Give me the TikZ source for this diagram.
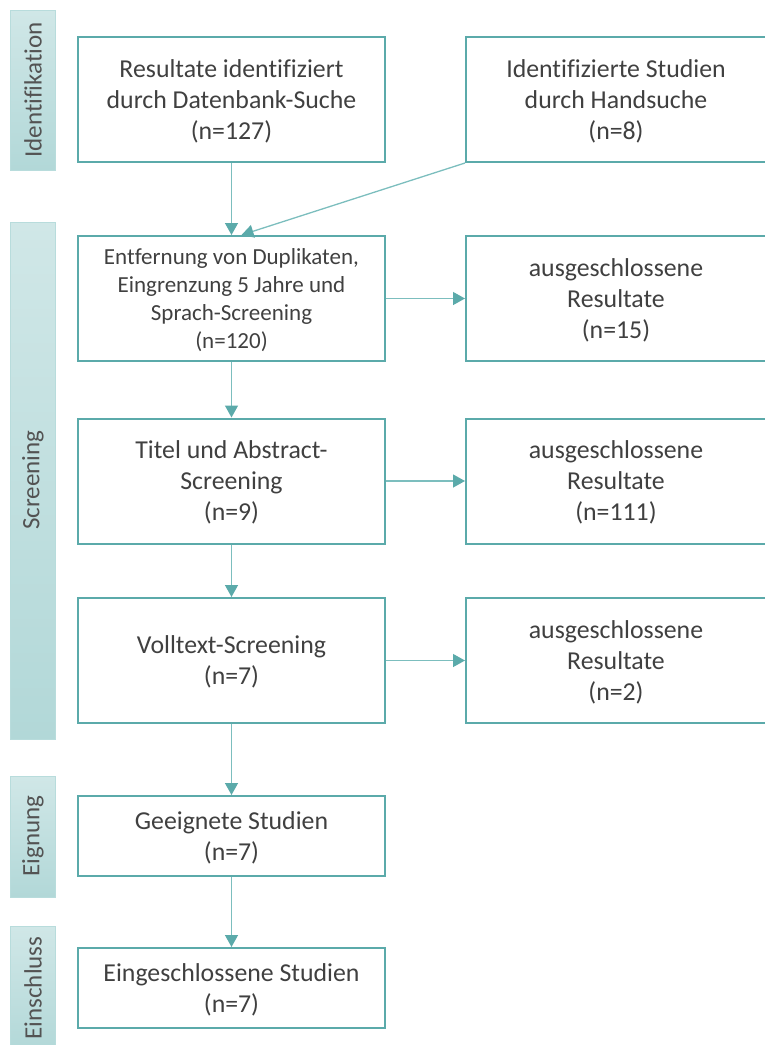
\documentclass[tikz,border=0pt]{standalone}
\usepackage{fontspec}
\setmainfont{Carlito}[Ligatures=NoCommon]
\usetikzlibrary{arrows.meta}
\definecolor{frameteal}{HTML}{5BAAAA}
\definecolor{lineteal}{HTML}{7CBEBE}
\definecolor{textgray}{HTML}{404040}
\definecolor{phasetop}{HTML}{D0E7E7}
\definecolor{phasebot}{HTML}{B2D8D8}
\definecolor{phaseedge}{HTML}{B8DCDC}
\begin{document}
\begin{tikzpicture}[x=1pt,y=-1pt,
  box/.style={draw=frameteal,line width=2pt,fill=white,align=center,text=textgray,
    font=\fontsize{25.8}{31}\selectfont,inner sep=0pt,minimum height=125pt,
    text depth=-4pt},
  lbox/.style={box,minimum width=307pt},
  rbox/.style={box,minimum width=300pt},
  flow/.style={draw=lineteal,line width=1.3pt,
    -{Triangle[length=12pt,width=13pt,color=frameteal]}},
  phasebar/.style={top color=phasetop,bottom color=phasebot,draw=phaseedge,line width=1pt},
  phaselabel/.style={rotate=90,text=textgray!90,font=\fontsize{25}{31}\selectfont,inner sep=0pt}
]
\useasboundingbox (0,0) rectangle (764,1045);

% phase bars on the left
\path[phasebar] (10,10) rectangle (55,170);
\path[phasebar] (10,222) rectangle (55,739);
\path[phasebar] (10,776) rectangle (55,897);
\path[phasebar] (10,926) rectangle (55,1052);
\node[phaselabel] (pid)  at (33,90)  {Identifikation};
\node[phaselabel] (pscr) at (33,480) {Screening};
\node[phaselabel] (pelg) at (33,836) {Eignung};
\node[phaselabel] (pinc) at (33,988) {Einschluss};

% main column
\node[lbox] (db)    at (231.5,99.5) {Resultate identifiziert\\durch Datenbank-Suche\\(n=127)};
\node[lbox,font=\fontsize{23}{28.3}\selectfont,text depth=0pt] (dup) at (231.5,298.5)
  {Entfernung von Duplikaten,\\Eingrenzung 5 Jahre und\\Sprach-Screening\\(n=120)};
\node[lbox] (title) at (231.5,481) {Titel und Abstract-\\Screening\\(n=9)};
\node[lbox] (full)  at (231.5,660.5) {Volltext-Screening\\(n=7)};
\node[lbox,minimum height=80pt] (elig) at (231.5,836) {Geeignete Studien\\(n=7)};
\node[lbox,minimum height=80pt] (incl) at (231.5,988) {Eingeschlossene Studien\\(n=7)};

% right column
\node[rbox] (hand) at (616,99.5)  {Identifizierte Studien\\durch Handsuche\\(n=8)};
\node[rbox] (ex1)  at (616,298.5) {ausgeschlossene\\Resultate\\(n=15)};
\node[rbox] (ex2)  at (616,481)   {ausgeschlossene\\Resultate\\(n=111)};
\node[rbox] (ex3)  at (616,660.5) {ausgeschlossene\\Resultate\\(n=2)};

% connectors
\coordinate (dupin) at ([xshift=10pt]dup.north);
\draw[flow] (db) -- (dup);
\draw[flow] (hand.south west) -- (dupin);
\draw[flow] (dup) -- (ex1);
\draw[flow] (dup) -- (title);
\draw[flow] (title) -- (ex2);
\draw[flow] (title) -- (full);
\draw[flow] (full) -- (ex3);
\draw[flow] (full) -- (elig);
\draw[flow] (elig) -- (incl);
\end{tikzpicture}
\end{document}
